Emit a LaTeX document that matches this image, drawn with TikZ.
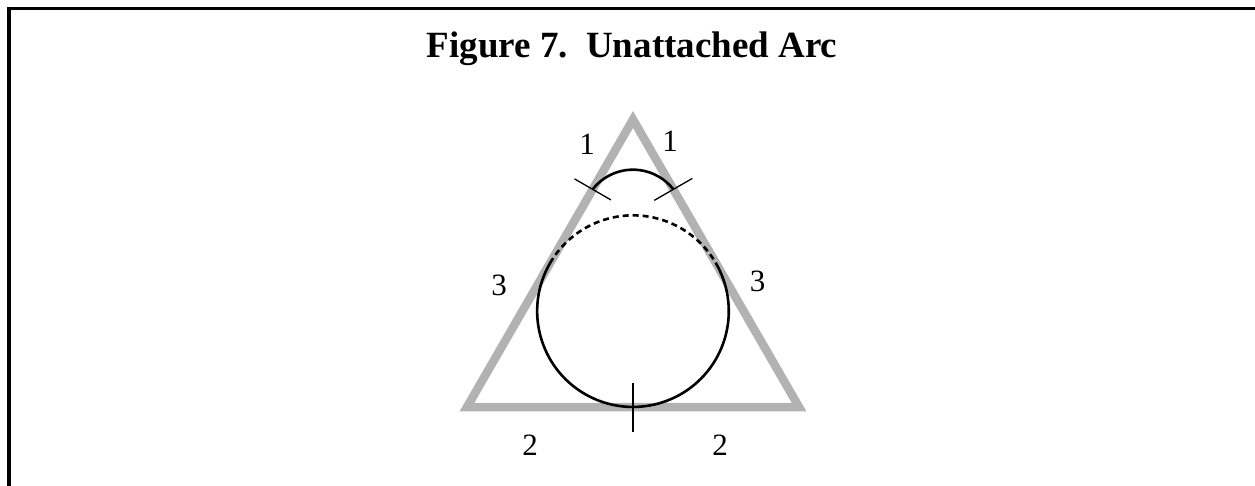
\documentclass[tikz,border=0pt]{standalone}
\usepackage{fontspec}
\setmainfont{Liberation Serif}
\usetikzlibrary{positioning,calc}
\definecolor{sidegray}{gray}{0.70}

\begin{document}
\begin{tikzpicture}[
    x=1pt, y=1pt,
    sideLine/.style={draw=sidegray, line width=8.5pt, line join=miter},
    arcLine/.style={draw=black, line width=2.6pt},
    tickLine/.style={draw=black, line width=1.3pt},
    numLabel/.style={font=\fontsize{31}{33}\selectfont, inner sep=0pt},
    titleText/.style={font=\fontsize{37}{42}\selectfont\bfseries, inner sep=0pt}
]
    \useasboundingbox (0,0) rectangle (1255,485);
    \draw[line width=3.5pt] (9,-20) -- (9,476.5) -- (1280,476.5);

    \node[titleText, anchor=base] (title) at (632,427) {Figure 7.\hspace{0.5em}Unattached Arc};

    % triangle and its incircle
    \coordinate (apex) at (633,365.5);
    \coordinate (leftCorner) at (467,78);
    \coordinate (rightCorner) at (799,78);
    \coordinate (centre) at (633,173.8);
    \draw[sideLine] (apex) -- (leftCorner) -- (rightCorner) -- cycle;

    \coordinate (leftTouch) at ($(leftCorner)!0.5!(apex)$);
    \coordinate (rightTouch) at ($(rightCorner)!0.5!(apex)$);
    \coordinate (baseTouch) at ($(leftCorner)!0.5!(rightCorner)$);
    \draw[arcLine] (leftTouch) arc[start angle=150, end angle=390, radius=95.8];
    \draw[arcLine, dash pattern=on 6pt off 4pt] (leftTouch) arc[start angle=150, end angle=30, radius=95.8];

    % the unattached arc near the apex
    \coordinate (leftEnd) at ($(leftCorner)!0.757!(apex)$);
    \coordinate (rightEnd) at ($(rightCorner)!0.757!(apex)$);
    \draw[arcLine] (leftEnd) arc[start angle=142, end angle=38, radius=51.2];

    \draw[tickLine] ($(leftEnd)!21pt!90:(apex)$) -- ($(leftEnd)!21pt!-90:(apex)$);
    \draw[tickLine] ($(rightEnd)!22pt!90:(apex)$) -- ($(rightEnd)!22pt!-90:(apex)$);
    \draw[tickLine] ($(baseTouch)+(0,24)$) -- ($(baseTouch)+(0,-25)$);

    \node[numLabel] (oneLeft) at (587,341) {1};
    \node[numLabel] (oneRight) at (670,344) {1};
    \node[numLabel] (threeLeft) at (499,200) {3};
    \node[numLabel] (threeRight) at (757.5,204) {3};
    \node[numLabel] (twoLeft) at (530,40) {2};
    \node[numLabel] (twoRight) at (720,40) {2};
\end{tikzpicture}
\end{document}
